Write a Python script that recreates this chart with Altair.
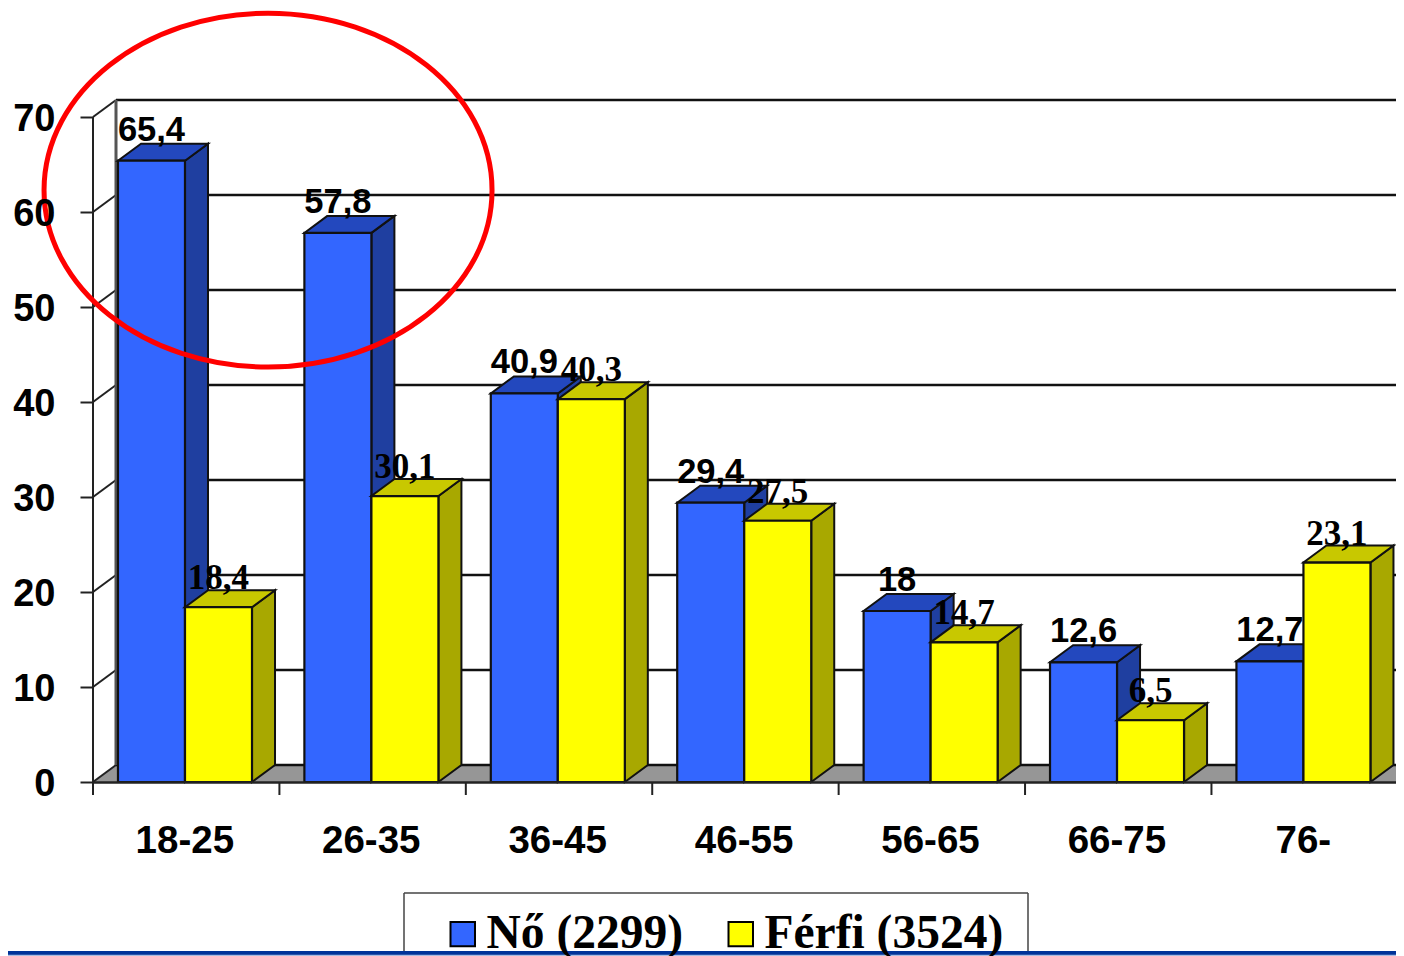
import altair as alt
import pandas as pd

categories = ["18-25", "26-35", "36-45", "46-55", "56-65", "66-75", "76-"]
series_names = ["Nő (2299)", "Férfi (3524)"]
women = [65.4, 57.8, 40.9, 29.4, 18, 12.6, 12.7]
men = [18.4, 30.1, 40.3, 27.5, 14.7, 6.5, 23.1]
y_ticks = [0, 10, 20, 30, 40, 50, 60, 70]

# geometry of the pseudo-3D drawing, in data units
X_MAX = 6.990
Y_MAX = 71.79
DX = 0.1234   # depth along x
DY = 1.79     # depth along y
OFFSET = 0.134
BAR = 0.3595

W, H = 1303, 682
SANS = "Liberation Sans"
SERIF = "Liberation Serif"

x_scale = alt.Scale(domain=[0, X_MAX], nice=False, zero=False)
y_scale = alt.Scale(domain=[0, Y_MAX], nice=False, zero=False)

label_centers = [i + 0.49 for i in range(len(categories))]
x_axis = alt.Axis(
    values=label_centers, domainWidth=2.5, domainColor="#222", grid=False, tickSize=0,
    labelPadding=40, labelFont=SANS, labelFontWeight="bold", labelFontSize=38.5, labelColor="black",
    labelExpr="['18-25','26-35','36-45','46-55','56-65','66-75','76-'][floor(datum.value)]",
    title=None, zindex=1)
y_axis = alt.Axis(
    values=y_ticks, domain=False, grid=False, tickSize=13, tickWidth=2, tickColor="#222",
    labelPadding=25, labelFont=SANS, labelFontWeight="bold", labelFontSize=38, labelOffset=2,
    labelColor="black", title=None, zindex=1)


def label(v):
    return f"{v:g}".replace(".", ",")


def build(values, series_index):
    front, side, top = [], [], []
    for i, (cat, v) in enumerate(zip(categories, values)):
        x0 = i + OFFSET + series_index * BAR
        x1 = x0 + BAR
        front.append(dict(cat=cat, x0=x0, x1=x1, xm=(x0 + x1) / 2, v=v, zero=0,
                          series=series_names[series_index], label=label(v)))
        side += [dict(cat=cat, x=x1, lo=0, hi=v), dict(cat=cat, x=x1 + DX, lo=DY, hi=v + DY)]
        top += [dict(cat=cat, y=v, a=x0, b=x1), dict(cat=cat, y=v + DY, a=x0 + DX, b=x1 + DX)]
    return pd.DataFrame(front), pd.DataFrame(side), pd.DataFrame(top)


X = lambda f: alt.X(f, type="quantitative", scale=x_scale, axis=x_axis)
Y = lambda f: alt.Y(f, type="quantitative", scale=y_scale, axis=y_axis)

color = alt.Color(
    "series:N",
    scale=alt.Scale(domain=series_names, range=["#3366FF", "#FFFF00"]),
    legend=alt.Legend(
        orient="none", legendX=342, legendY=806, direction="horizontal", columns=2,
        title=None, symbolType="square", symbolSize=600, symbolStrokeColor="black",
        symbolStrokeWidth=2, symbolOpacity=1, labelFont=SERIF, labelFontWeight="bold",
        labelFontSize=47.5, labelColor="black", labelLimit=400, labelOffset=0,
        columnPadding=33, padding=4, zindex=1,
    ),
)


def bars(values, idx, side_col, top_col, font, dy, size):
    front, side, top = build(values, idx)
    s = alt.Chart(side).mark_area(fill=side_col, stroke="#111", strokeWidth=2, opacity=1).encode(
        x=X("x"), y=Y("lo"), y2="hi", detail="cat:N")
    t = alt.Chart(top).mark_area(fill=top_col, stroke="#111", strokeWidth=2, opacity=1, orient="horizontal").encode(
        y=Y("y"), x=X("a"), x2="b", detail="cat:N")
    f = alt.Chart(front).mark_rect(stroke="#111", strokeWidth=2.2).encode(
        x=X("x0"), x2="x1", y=Y("v"), y2="zero", color=color)
    txt = alt.Chart(front).mark_text(font=font, fontWeight="bold", fontSize=size, color="black",
                                     baseline="middle", dy=dy).encode(
        x=X("xm"), y=Y("v"), text="label:N")
    return [s, t, f], txt


grid = pd.DataFrame({"v": y_ticks})
grid["vb"] = grid.v + DY
grid["x0"] = 0.0
grid["xd"] = DX
grid["xe"] = X_MAX
grid["zero"] = 0
grid["dy"] = DY

bounds = pd.DataFrame({"b": list(range(len(categories)))})

floor = pd.DataFrame({"y": [0, DY], "a": [0, DX], "b": [X_MAX, X_MAX]})
floor_layer = alt.Chart(floor).mark_area(fill="#969696", orient="horizontal", opacity=1).encode(
    y=Y("y"), x=X("a"), x2="b")

back_grid = alt.Chart(grid).mark_rule(color="#111", strokeWidth=2.5).encode(
    x=X("xd"), x2="xe", y=Y("vb"))
diag = alt.Chart(grid).mark_rule(color="#222", strokeWidth=2).encode(
    x=X("x0"), x2="xd", y=Y("v"), y2="vb")
wall = alt.Chart(grid[grid.v == 70]).mark_rule(color="#555", strokeWidth=3).encode(
    x=X("xd"), y=Y("dy"), y2="vb")
front_axis = alt.Chart(grid[grid.v == 70]).mark_rule(color="#222", strokeWidth=2).encode(
    x=X("x0"), y=Y("zero"), y2="v")
ticks = alt.Chart(bounds).mark_rule(color="#222", strokeWidth=2).encode(
    x=X("b"), y=alt.value(H), y2=alt.value(H + 13))

blue_layers, blue_txt = bars(women, 0, "#1F3FA0", "#2348BE", SANS, -30, 34.5)
yellow_layers, yellow_txt = bars(men, 1, "#A8A800", "#C8C800", SERIF, -29, 35)

one = grid[grid.v == 0]
box_top = alt.Chart(one).mark_rule(color="#444", strokeWidth=1.5).encode(
    x=alt.value(311), x2=alt.value(935), y=alt.value(793))
box_left = alt.Chart(one).mark_rule(color="#444", strokeWidth=1.5).encode(
    x=alt.value(311), y=alt.value(793), y2=alt.value(860))
box_right = alt.Chart(one).mark_rule(color="#444", strokeWidth=1.5).encode(
    x=alt.value(935), y=alt.value(793), y2=alt.value(860))
band_dark = alt.Chart(one).mark_rule(color="#003399", strokeWidth=4).encode(
    x=alt.value(-85), x2=alt.value(W), y=alt.value(853))
band_light = alt.Chart(one).mark_rule(color="#A9BCE0", strokeWidth=1.5).encode(
    x=alt.value(-85), x2=alt.value(W), y=alt.value(855.5))

ellipse_df = pd.DataFrame({"x": [0.939], "y": [62.3]})
ellipse = alt.Chart(ellipse_df).mark_point(
    shape="M-1,0A1,0.79,0,1,1,1,0A1,0.79,0,1,1,-1,0Z", size=448 * 448,
    filled=False, stroke="#FF0000", strokeWidth=5, opacity=1, fillOpacity=0,
).encode(x=X("x"), y=Y("y"))

chart = alt.layer(
    floor_layer, back_grid, diag, wall, front_axis, ticks,
    *blue_layers, *yellow_layers, blue_txt, yellow_txt,
    box_top, box_left, box_right, band_dark, band_light, ellipse,
).properties(
    width=W, height=H,
    padding={"left": 85, "top": 92, "right": 0, "bottom": 174},
    autosize=alt.AutoSizeParams(type="none"),
    background="white",
).configure_view(stroke=None)

chart.save("out.html", embed_options={"renderer": "svg", "actions": False})
